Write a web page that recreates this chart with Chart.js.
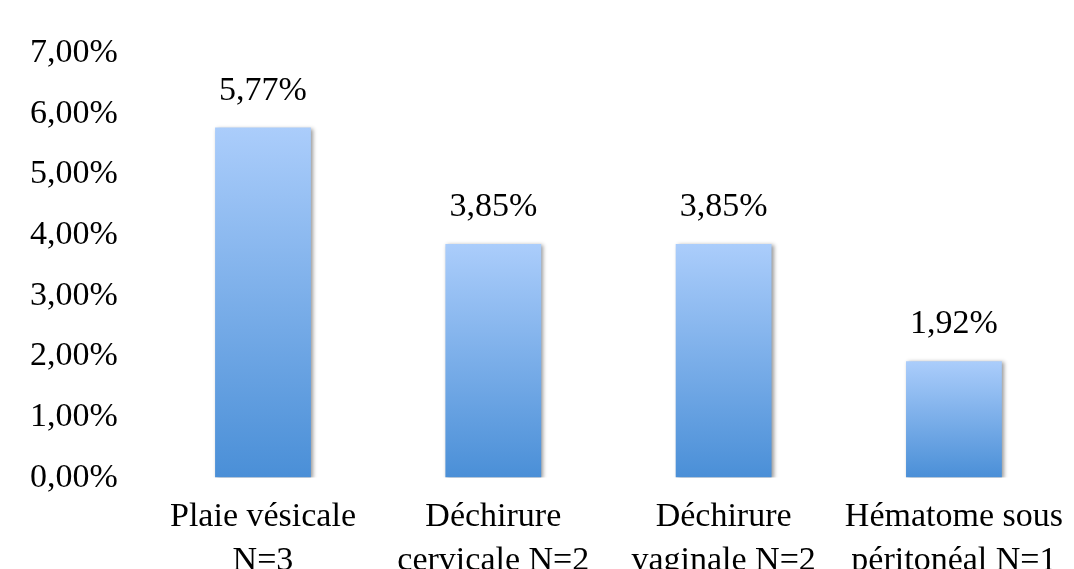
<!DOCTYPE html>
<html>
<head>
<meta charset="utf-8">
<script src="https://cdn.jsdelivr.net/npm/chart.js@4/dist/chart.umd.min.js"></script>
<style>
  html, body { margin: 0; padding: 0; background: #fff; overflow: hidden; }
  #wrap { width: 1080px; height: 600px; }
</style>
</head>
<body>
<div id="wrap"><canvas id="chart"></canvas></div>
<script>
// Complications — pourcentages
const categories = [
  ['Plaie vésicale', 'N=3'],
  ['Déchirure', 'cervicale N=2'],
  ['Déchirure', 'vaginale N=2'],
  ['Hématome sous', 'péritonéal N=1']
];
const values = [5.77, 3.85, 3.85, 1.92];
const yTicks = [0, 1, 2, 3, 4, 5, 6, 7];

const FONT = '"Liberation Serif", "Times New Roman", serif';
const SIZE = 34;
const fmt = v => v.toFixed(2).replace('.', ',') + '%';

// gradient par barre, clair en haut, foncé en bas
function barGradient(ctx) {
  const chart = ctx.chart;
  const y = chart.scales.y;
  if (!y || !chart.chartArea) return '#7fb0ee';
  const top = y.getPixelForValue(ctx.raw);
  const bottom = y.getPixelForValue(0);
  const g = chart.ctx.createLinearGradient(0, top, 0, bottom);
  g.addColorStop(0, '#abcdfb');
  g.addColorStop(1, '#4a8fd7');
  return g;
}

const shadowPlugin = {
  id: 'barShadow',
  beforeDatasetDraw(chart) {
    const c = chart.ctx;
    c.save();
    c.shadowColor = 'rgba(0,0,0,0.4)';
    c.shadowBlur = 4;
    c.shadowOffsetX = 2;
    c.shadowOffsetY = 1;
  },
  afterDatasetDraw(chart) {
    chart.ctx.restore();
  }
};

const valueLabels = {
  id: 'valueLabels',
  afterDatasetsDraw(chart) {
    const c = chart.ctx;
    const meta = chart.getDatasetMeta(0);
    c.save();
    c.font = SIZE + 'px ' + FONT;
    c.fillStyle = '#000';
    c.textAlign = 'center';
    c.textBaseline = 'alphabetic';
    meta.data.forEach((bar, i) => {
      c.fillText(fmt(values[i]), bar.x, bar.y - 28);
    });
    c.restore();
  }
};

new Chart(document.getElementById('chart'), {
  type: 'bar',
  data: {
    labels: categories,
    datasets: [{
      data: values,
      backgroundColor: barGradient,
      borderWidth: 0,
      categoryPercentage: 1,
      barPercentage: 0.416
    }]
  },
  options: {
    responsive: true,
    maintainAspectRatio: false,
    animation: false,
    layout: { padding: { top: 53, left: 0, right: 0, bottom: 0 } },
    plugins: { legend: { display: false }, tooltip: { enabled: false } },
    scales: {
      x: {
        grid: { display: false, drawTicks: false },
        border: { display: false },
        ticks: {
          color: '#000',
          padding: 17,
          font: { family: FONT, size: SIZE, lineHeight: 1.3 },
          maxRotation: 0,
          autoSkip: false
        }
      },
      y: {
        min: 0,
        max: 7,
        grid: { display: false, drawTicks: false },
        border: { display: false },
        afterBuildTicks: axis => { axis.ticks = yTicks.map(v => ({ value: v })); },
        ticks: {
          color: '#000',
          padding: 30,
          font: { family: FONT, size: SIZE },
          callback: v => fmt(v)
        }
      }
    }
  },
  plugins: [shadowPlugin, valueLabels]
});
</script>
</body>
</html>
